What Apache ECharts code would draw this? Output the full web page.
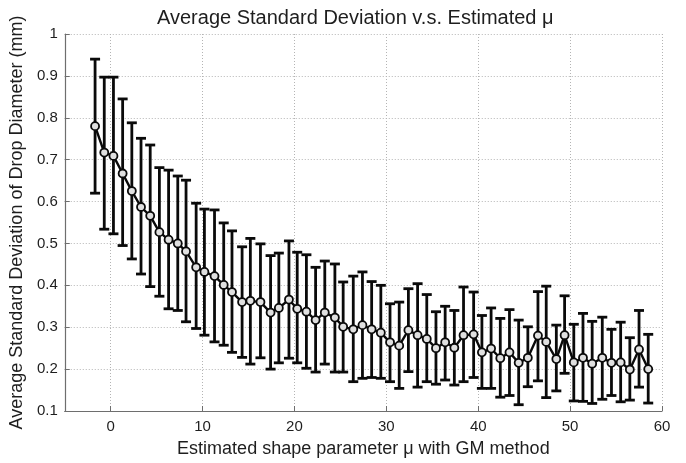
<!DOCTYPE html>
<html>
<head>
<meta charset="utf-8">
<script src="https://cdn.jsdelivr.net/npm/echarts@6/dist/echarts.min.js"></script>
<style>
  html, body { margin: 0; padding: 0; background: #ffffff; }
  #chart { width: 686px; height: 463px; }
</style>
</head>
<body>
<div id="chart"></div>
<script>
// Estimated shape parameter mu (GM method) for each group
const muValues = [
  -1.7, -0.7, 0.3, 1.3, 2.3, 3.3, 4.3, 5.3, 6.3, 7.3,
  8.2, 9.3, 10.2, 11.3, 12.3, 13.2, 14.3, 15.2, 16.3, 17.4,
  18.3, 19.4, 20.3, 21.3, 22.3, 23.3, 24.4, 25.3, 26.4, 27.4,
  28.4, 29.4, 30.4, 31.4, 32.4, 33.4, 34.4, 35.4, 36.4, 37.4,
  38.4, 39.5, 40.4, 41.4, 42.4, 43.4, 44.4, 45.4, 46.5, 47.4,
  48.5, 49.4, 50.4, 51.4, 52.4, 53.5, 54.5, 55.5, 56.5, 57.5,
  58.5
];

// Average standard deviation of drop diameter (mm)
const meanStd = [
  0.780, 0.717, 0.709, 0.667, 0.625, 0.587, 0.566, 0.527, 0.509, 0.500,
  0.481, 0.443, 0.432, 0.422, 0.401, 0.384, 0.360, 0.363, 0.360, 0.335,
  0.346, 0.366, 0.344, 0.337, 0.317, 0.335, 0.323, 0.301, 0.295, 0.305,
  0.295, 0.287, 0.264, 0.256, 0.293, 0.281, 0.272, 0.250, 0.264, 0.251,
  0.281, 0.283, 0.240, 0.249, 0.226, 0.240, 0.215, 0.227, 0.280, 0.265,
  0.224, 0.281, 0.216, 0.227, 0.213, 0.227, 0.215, 0.216, 0.199, 0.247,
  0.200
];

// Upper end of each error bar (mm)
const upperStd = [
  0.940, 0.897, 0.897, 0.845, 0.788, 0.751, 0.735, 0.681, 0.675, 0.661,
  0.651, 0.596, 0.582, 0.580, 0.549, 0.530, 0.492, 0.512, 0.499, 0.471,
  0.477, 0.506, 0.479, 0.473, 0.443, 0.458, 0.451, 0.408, 0.422, 0.432,
  0.409, 0.400, 0.356, 0.360, 0.392, 0.404, 0.378, 0.337, 0.350, 0.340,
  0.396, 0.384, 0.328, 0.346, 0.321, 0.342, 0.317, 0.301, 0.385, 0.398,
  0.305, 0.375, 0.307, 0.333, 0.314, 0.324, 0.295, 0.312, 0.275, 0.340,
  0.283
];

// Lower end of each error bar (mm)
const lowerStd = [
  0.620, 0.534, 0.523, 0.495, 0.463, 0.427, 0.397, 0.374, 0.344, 0.340,
  0.313, 0.297, 0.281, 0.265, 0.257, 0.240, 0.228, 0.212, 0.227, 0.200,
  0.215, 0.226, 0.215, 0.202, 0.193, 0.212, 0.193, 0.193, 0.170, 0.178,
  0.180, 0.178, 0.170, 0.154, 0.194, 0.157, 0.170, 0.164, 0.174, 0.162,
  0.170, 0.180, 0.154, 0.154, 0.133, 0.137, 0.115, 0.158, 0.172, 0.132,
  0.148, 0.190, 0.124, 0.123, 0.118, 0.128, 0.137, 0.122, 0.126, 0.157,
  0.119
];

// Axis ticks
const xTicks = [0, 10, 20, 30, 40, 50, 60];
const yTicks = [0.1, 0.2, 0.3, 0.4, 0.5, 0.6, 0.7, 0.8, 0.9, 1];
const xRange = [-5, 60];

const FONT = '"Liberation Sans", Arial, Helvetica, sans-serif';
const TEXT = '#1e1e1e';

const lineData = muValues.map((m, i) => [m, meanStd[i]]);
const barData = muValues.map((m, i) => [m, lowerStd[i], upperStd[i]]);

// Vertical error bar with horizontal caps at both ends
function renderErrorBar(params, api) {
  const x = api.value(0);
  const lo = api.coord([x, api.value(1)]);
  const hi = api.coord([x, api.value(2)]);
  const half = 5;
  const style = { stroke: '#0a0a0a', lineWidth: 2.8, fill: null };
  return {
    type: 'group',
    children: [
      { type: 'line', shape: { x1: lo[0], y1: lo[1], x2: hi[0], y2: hi[1] }, style },
      { type: 'line', shape: { x1: hi[0] - half, y1: hi[1], x2: hi[0] + half, y2: hi[1] }, style },
      { type: 'line', shape: { x1: lo[0] - half, y1: lo[1], x2: lo[0] + half, y2: lo[1] }, style }
    ]
  };
}

const chart = echarts.init(document.getElementById('chart'), null, { renderer: 'canvas' });

chart.setOption({
  backgroundColor: '#ffffff',
  animation: false,
  textStyle: { fontFamily: FONT },
  title: {
    text: 'Average Standard Deviation v.s. Estimated \u03bc',
    left: 152,
    top: 3,
    textStyle: { fontFamily: FONT, fontSize: 20, fontWeight: 'normal', color: TEXT }
  },
  grid: { left: 63, right: 24, top: 34, bottom: 50, containLabel: false },
  xAxis: {
    type: 'value',
    min: xRange[0],
    max: xRange[1],
    name: 'Estimated shape parameter \u03bc with GM method',
    nameLocation: 'middle',
    nameGap: 29,
    nameTextStyle: { fontFamily: FONT, fontSize: 18, color: TEXT },
    axisLine: { show: true, onZero: false, lineStyle: { color: '#6e6e6e', width: 1.2 } },
    axisTick: { show: true, inside: true, length: 5, customValues: xTicks, lineStyle: { color: '#6e6e6e' } },
    axisLabel: { customValues: xTicks, margin: 8, fontSize: 15, color: TEXT, fontFamily: FONT },
    splitLine: { show: true, lineStyle: { color: '#b4b4b4', type: [1, 2], width: 1 } }
  },
  yAxis: {
    type: 'value',
    min: yTicks[0],
    max: yTicks[yTicks.length - 1],
    interval: yTicks[1] - yTicks[0],
    name: 'Average Standard Deviation of Drop Diameter (mm)',
    nameLocation: 'middle',
    nameRotate: 90,
    nameGap: 34,
    nameTextStyle: { fontFamily: FONT, fontSize: 18, color: TEXT },
    axisLine: { show: true, onZero: false, lineStyle: { color: '#6e6e6e', width: 1.2 } },
    axisTick: { show: true, inside: true, length: 5, lineStyle: { color: '#6e6e6e' } },
    axisLabel: {
      margin: 7, fontSize: 15, color: TEXT, fontFamily: FONT,
      formatter: v => (Math.abs(v - 1) < 1e-9 ? '1' : v.toFixed(1))
    },
    splitLine: { show: true, lineStyle: { color: '#b4b4b4', type: [1, 2], width: 1 } }
  },
  series: [
    {
      name: 'error',
      type: 'custom',
      renderItem: renderErrorBar,
      data: barData,
      encode: { x: 0, y: [1, 2] },
      z: 2,
      clip: false
    },
    {
      name: 'mean',
      type: 'line',
      data: lineData,
      symbol: 'circle',
      symbolSize: 8,
      showAllSymbol: true,
      lineStyle: { color: '#0a0a0a', width: 2.4 },
      itemStyle: { color: '#e0e0e0', borderColor: '#0a0a0a', borderWidth: 1.8 },
      z: 3
    }
  ]
});
</script>
</body>
</html>
